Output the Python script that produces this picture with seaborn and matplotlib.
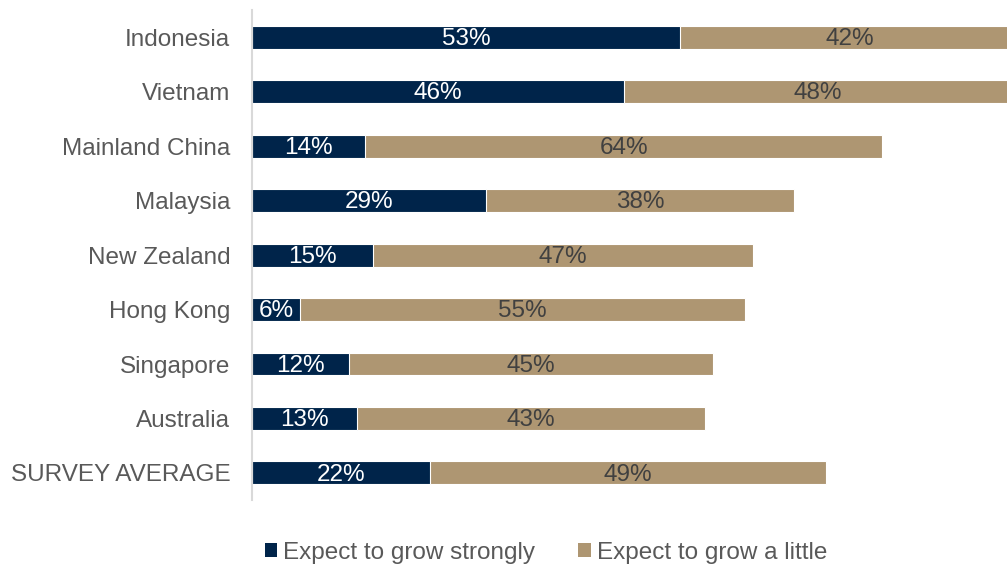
import matplotlib
matplotlib.use("Agg")
import matplotlib.pyplot as plt
import seaborn as sns
import pandas as pd
from matplotlib.patches import Patch

countries = ["Indonesia", "Vietnam", "Mainland China", "Malaysia", "New Zealand",
             "Hong Kong", "Singapore", "Australia", "SURVEY AVERAGE"]
grow_strongly = [53, 46, 14, 29, 15, 6, 12, 13, 22]
grow_little = [42, 48, 64, 38, 47, 55, 45, 43, 49]
series_names = ["Expect to grow strongly", "Expect to grow a little"]

NAVY = "#00244A"
TAN = "#AE9672"
GREY_TEXT = "#595959"
FS = 17.5

sns.set_theme(style="white")
plt.rcParams["font.family"] = ["Liberation Sans", "DejaVu Sans"]

df = pd.DataFrame({"country": countries,
                   "strong": grow_strongly,
                   "little": grow_little})
df["total"] = df["strong"] + df["little"]

fig = plt.figure(figsize=(10.07, 5.67), dpi=100)
ax = fig.add_axes([0.25, 0.118, 0.75, 0.864])

# stacked bars: full total in tan, strong share in navy over it
sns.barplot(data=df, y="country", x="total", orient="h", color=TAN,
            saturation=1, width=0.42, edgecolor="white", linewidth=0.8, ax=ax)
sns.barplot(data=df, y="country", x="strong", orient="h", color=NAVY,
            saturation=1, width=0.42, edgecolor="white", linewidth=0.8, ax=ax)

for i, (s, l) in enumerate(zip(grow_strongly, grow_little)):
    ax.text(s / 2, i + 0.03, f"{s}%", ha="center", va="center", color="white",
            fontsize=FS)
    ax.text(s + l / 2, i + 0.03, f"{l}%", ha="center", va="center",
            color="#404040", fontsize=FS)

ax.set_xlim(0, 93.4)
ax.set_ylim(len(countries) - 0.5, -0.5)
ax.set_xlabel("")
ax.set_ylabel("")
ax.set_xticks([])
ax.tick_params(axis="y", length=0, labelsize=FS, labelcolor=GREY_TEXT, pad=15.5)
for side in ["top", "right", "bottom"]:
    ax.spines[side].set_visible(False)
ax.spines["left"].set_color("#D9D9D9")
ax.spines["left"].set_linewidth(1.5)

handles = [Patch(facecolor=NAVY, edgecolor="none"),
           Patch(facecolor=TAN, edgecolor="none")]
fig.legend(handles, series_names, loc="center", bbox_to_anchor=(0.542, 0.025),
           ncol=2, frameon=False, fontsize=FS, labelcolor=GREY_TEXT,
           handlelength=0.5, handleheight=0.5, handletextpad=0.25,
           columnspacing=1.8, borderpad=0)

fig.savefig("out.png", dpi=100)
